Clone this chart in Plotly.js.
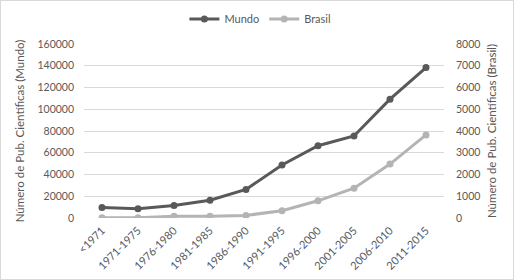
<!DOCTYPE html>
<html><head><meta charset="utf-8">
<script src="https://cdn.plot.ly/plotly-3.0.1.min.js"></script>
<style>
html,body{margin:0;padding:0;background:#fff;}
#chart{width:512px;height:278px;border:1px solid #d9d9d9;}
</style></head>
<body><div id="chart"></div>
<script>
var categories = ["<1971","1971-1975","1976-1980","1981-1985","1986-1990","1991-1995","1996-2000","2001-2005","2006-2010","2011-2015"];
var mundo = [9600, 8500, 11400, 16400, 26300, 48800, 66500, 75400, 109300, 138300];
var brasil = [10, 10, 75, 75, 120, 330, 790, 1370, 2480, 3820];
var mundoTicks = [0,20000,40000,60000,80000,100000,120000,140000,160000];
var brasilTicks = [0,1000,2000,3000,4000,5000,6000,7000,8000];

var fontFam = "Lato, 'Open Sans', sans-serif";
var txt = "#595959";
var traces = [
  {x: categories, y: mundo, name: "Mundo", type: "scatter", mode: "lines+markers",
   line: {color: "#595959", width: 3}, marker: {color: "#595959", size: 7}, yaxis: "y"},
  {x: categories, y: brasil, name: "Brasil", type: "scatter", mode: "lines+markers",
   line: {color: "#b4b4b4", width: 3}, marker: {color: "#b4b4b4", size: 7}, yaxis: "y2"}
];
var layout = {
  width: 512, height: 278,
  margin: {l: 83, r: 69, t: 43, b: 61},
  paper_bgcolor: "#fff", plot_bgcolor: "#fff",
  font: {family: fontFam, size: 10.5, color: txt},
  showlegend: true,
  legend: {orientation: "h", x: 0.49, xanchor: "center", yref: "container", y: 0.935, yanchor: "middle",
           font: {family: fontFam, size: 11, color: txt}, itemwidth: 30},
  xaxis: {type: "category", range: [-0.5, 9.5], tickangle: -45, showgrid: false,
          showline: false, zeroline: false, ticks: "", ticklabelstandoff: 3,
          tickfont: {family: fontFam, size: 11, color: txt}},
  yaxis: {range: [0, 160000], tickvals: mundoTicks, tickformat: "d", showgrid: true,
          gridcolor: "#d9d9d9", gridwidth: 1, zeroline: false, showline: false,
          ticks: "", ticklabelstandoff: 9, tickfont: {size: 10.5, color: txt},
          title: {text: "Número de Pub. Científicas (Mundo)", font: {size: 11.5, color: txt}, standoff: 10}},
  yaxis2: {range: [0, 8000], tickvals: brasilTicks, tickformat: "d", overlaying: "y", side: "right",
           showgrid: false, zeroline: false, showline: false, ticks: "",
           ticklabelstandoff: 11, tickfont: {size: 10.5, color: txt},
           title: {text: "Número de Pub. Científicas (Brasil)", font: {size: 11.5, color: txt}, standoff: 8}}
};
Plotly.newPlot("chart", traces, layout, {displayModeBar: false, staticPlot: true});
</script></body></html>
